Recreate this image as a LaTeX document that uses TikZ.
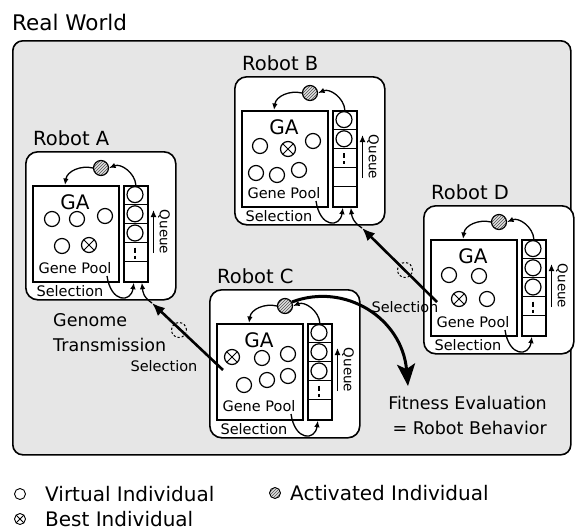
\documentclass[tikz,border=0pt]{standalone}
\usepackage{fontspec}
\setmainfont{DejaVu Sans}
\usetikzlibrary{arrows.meta,patterns}
\definecolor{worldbg}{HTML}{E6E6E6}
\definecolor{hatchc}{HTML}{505050}
\tikzset{
 robotbox/.style={draw, line width=1.6pt, rounded corners=12pt, fill=white, minimum width=150pt, minimum height=148pt, inner sep=0pt},
 gabox/.style={draw, line width=1.7pt, fill=white, minimum width=86pt, minimum height=96pt, inner sep=0pt},
 qbox/.style={draw, line width=1.7pt, fill=white, minimum width=24pt, minimum height=96pt, inner sep=0pt},
 cell/.style={line width=0.8pt},
 indiv/.style={draw, circle, line width=1.2pt, minimum size=15pt, inner sep=0pt},
 best/.style={indiv, path picture={\draw[line width=1pt] (path picture bounding box.north west) -- (path picture bounding box.south east) (path picture bounding box.north east) -- (path picture bounding box.south west);}},
 actind/.style={draw, circle, line width=1.2pt, minimum size=15pt, inner sep=0pt, preaction={fill=gray!25}, pattern=north east lines, pattern color=hatchc},
 tarrow/.style={line width=1.3pt, -{Latex[length=6.5pt,width=5.5pt]}},
 qarrow/.style={line width=1.5pt, -{Latex[length=7pt,width=6pt]}},
 trans/.style={line width=2.6pt, -{Latex[length=13pt,width=11pt]}},
 fitarrow/.style={line width=3pt, -{Stealth[length=22pt,width=18pt,inset=5pt]}},
 lab/.style={font=\fontsize{19.5}{21}\selectfont, inner sep=0pt},
 gatxt/.style={font=\fontsize{20}{22}\selectfont, inner sep=0pt},
 smtxt/.style={font=\fontsize{14.5}{16}\selectfont, inner sep=0pt},
 qtxt/.style={font=\fontsize{13.5}{15}\selectfont, inner sep=0pt},
 midtxt/.style={font=\fontsize{17.5}{20}\selectfont, inner sep=0pt},
 legtxt/.style={font=\fontsize{20}{22}\selectfont, inner sep=0pt},
 transit/.style={draw, circle, dashed, dash pattern=on 2.2pt off 2pt, line width=1pt, minimum size=15pt, inner sep=0pt}
}
\newcommand\robotunit[6]{%
\begin{scope}[shift={(#2,#3)}]
 \node[robotbox, anchor=north west] (#1-box) at (0,0) {};
 \node[lab, anchor=west] (#1-lab) at (8,-13) {#4};
 \node[gabox, anchor=north west] (#1-ga) at (7,34) {};
 \node[qbox, anchor=north west] (#1-q) at (98,34) {};
 \foreach \k in {1,...,4} {\draw[cell] (98,34+19.2*\k) -- (122,34+19.2*\k);}
 \foreach \k in {#5} {\node[indiv, minimum size=16pt] (#1-q\k) at (110,43.6+19.2*\k) {};}
 \draw[line width=1.5pt] (110,39+19.2*#6) -- (110,44+19.2*#6) (110,47+19.2*#6) -- (110,50+19.2*#6);
 \node[actind] (#1-act) at (76,17) {};
 \node[gatxt] (#1-gal) at (50,51) {GA};
 \node[smtxt] (#1-gp) at (50,117) {Gene Pool};
 \node[smtxt] (#1-sl) at (45,140) {Selection};
 \node[qtxt, rotate=-90] (#1-ql) at (139,81) {Queue};
 \coordinate (#1-qa1) at (128.5,102); \coordinate (#1-qa2) at (128.5,59);
 \draw[qarrow] (#1-qa1) -- (#1-qa2);
 \draw[tarrow] (#1-q.north) .. controls (110,22) and (96,12) .. (#1-act.east);
 \draw[tarrow] (#1-act.west) .. controls (56,14) and (42,20) .. ([xshift=33pt]#1-ga.north west);
 \coordinate (#1-sel) at (82,125);
 \draw[tarrow] (#1-sel) .. controls (86,152) and (106,152) .. ([xshift=-2pt]#1-q.south);
\end{scope}}
\begin{document}
\begin{tikzpicture}[x=1pt,y=-1pt]
\useasboundingbox[fill=white] (0,0) rectangle (581,531);
\node[font=\fontsize{21.5}{23}\selectfont, inner sep=0pt, anchor=west] (rw) at (12,22) {Real World};
\node[draw, line width=1.6pt, rounded corners=10pt, fill=worldbg, minimum width=558pt, minimum height=414pt, inner sep=0pt, anchor=north west] (world) at (12,40) {};

% Robot A
\robotunit{A}{25}{151}{Robot A}{0,1,2}{3}
\begin{scope}[shift={(25,151)}]
 \node[indiv] (A-g1) at (27,68) {};
 \node[indiv] (A-g2) at (52,68) {};
 \node[indiv] (A-g3) at (80,65) {};
 \node[indiv] (A-g4) at (37,95) {};
 \node[best] (A-g5) at (64,94) {};
\end{scope}
% Robot B
\robotunit{B}{234}{76}{Robot B}{0,1}{2}
\begin{scope}[shift={(234,76)}]
 \node[indiv] (B-g1) at (26,70) {};
 \node[best] (B-g2) at (54,73) {};
 \node[indiv] (B-g3) at (79,65) {};
 \node[indiv] (B-g4) at (22,97) {};
 \node[indiv] (B-g5) at (43,99) {};
 \node[indiv] (B-g6) at (65,94) {};
\end{scope}
% Robot C
\robotunit{C}{209}{289}{Robot C}{0,1,2}{3}
\begin{scope}[shift={(209,289)}]
 \node[best] (C-g1) at (23,68) {};
 \node[indiv] (C-g2) at (53,69) {};
 \node[indiv] (C-g3) at (79,65) {};
 \node[indiv] (C-g4) at (35,96) {};
 \node[indiv] (C-g5) at (58,91) {};
 \node[indiv] (C-g6) at (79,87) {};
\end{scope}
% Robot D
\robotunit{D}{423}{205}{Robot D}{0,1,2}{3}
\begin{scope}[shift={(423,205)}]
 \node[indiv] (D-g1) at (26,70) {};
 \node[indiv] (D-g2) at (56,71) {};
 \node[best] (D-g3) at (36,94) {};
 \node[indiv] (D-g4) at (64,94) {};
\end{scope}

% genome transmission
\coordinate (C-out) at (223,370);
\coordinate (A-in) at (152,303);
\draw[trans] (C-out) -- (A-in);
\draw[tarrow] (A-in) .. controls +(-9,-6) and +(1,9) .. ([xshift=6pt]A-q.south);
\coordinate (D-out) at (437,302);
\coordinate (B-in) at (362,228);
\draw[trans] (D-out) -- (B-in);
\draw[tarrow] (B-in) .. controls +(-9,-6) and +(1,9) .. ([xshift=6pt]B-q.south);
\node[transit] (tA) at (179,330) {};
\node[transit] (tB) at (405,270) {};

% fitness evaluation arrow
\coordinate (fitend) at (408,386);
\draw[fitarrow] (C-act.30) .. controls (345,282) and (402,318) .. (fitend);

% labels
\node[midtxt, anchor=west] (gt1) at (53,320) {Genome};
\node[midtxt, anchor=west] (gt2) at (53,345) {Transmission};
\node[smtxt] (sel1) at (164,366) {Selection};
\node[smtxt] (sel2) at (405,307) {Selection};
\node[midtxt, anchor=east] (fe1) at (547,403) {Fitness Evaluation};
\node[midtxt, anchor=east] (fe2) at (547,428) {= Robot Behavior};

% legend
\node[indiv, minimum size=11pt, line width=0.9pt] (lg1) at (20,494) {};
\node[legtxt, anchor=west] (lt1) at (45,494) {Virtual Individual};
\node[best, minimum size=11pt, line width=0.9pt] (lg2) at (20,519) {};
\node[legtxt, anchor=west] (lt2) at (45,519) {Best Individual};
\node[actind, minimum size=11pt, line width=0.9pt] (lg3) at (275,493) {};
\node[legtxt, anchor=west] (lt3) at (290,493) {Activated Individual};
\end{tikzpicture}
\end{document}
